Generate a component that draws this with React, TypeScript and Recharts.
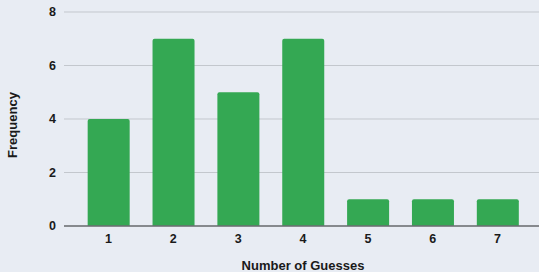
import React from "react";
import { BarChart, Bar, XAxis, YAxis, CartesianGrid, Label } from "recharts";

const guesses = ["1", "2", "3", "4", "5", "6", "7"];
const frequency = [4, 7, 5, 7, 1, 1, 1];
const yTicks = [0, 2, 4, 6, 8];

const data = guesses.map((g, i) => ({ guess: g, freq: frequency[i] }));

const FONT = "'Liberation Sans', Arial, sans-serif";
const labelStyle = { fill: "#1a1a1a", fontSize: 13, fontWeight: 700, fontFamily: FONT };

export default function App() {
  return (
    <div style={{ position: "absolute", left: 0, top: 0, width: 539, height: 272, background: "#e8ecf3" }}>
      <BarChart
        width={539}
        height={272}
        data={data}
        margin={{ top: 12, right: 0, bottom: 0, left: 0 }}
        barCategoryGap="18%"
      >
        <CartesianGrid vertical={false} stroke="#c3c7cd" />
        <XAxis
          dataKey="guess"
          height={46}
          padding={{ left: 12, right: 9 }}
          axisLine={{ stroke: "#6b6e72", strokeWidth: 1.5 }}
          tickLine={false}
          tick={{ fill: "#1a1a1a", fontSize: 12.5, fontWeight: 700, fontFamily: FONT }}
        >
          <Label
            content={() => (
              <text x={303} y={270} textAnchor="middle" style={labelStyle}>
                Number of Guesses
              </text>
            )}
          />
        </XAxis>
        <YAxis
          width={64}
          domain={[0, 8]}
          ticks={yTicks}
          axisLine={false}
          tickLine={false}
          tick={{ fill: "#1a1a1a", fontSize: 12.5, fontWeight: 700, fontFamily: FONT }}
        >
          <Label
            content={() => (
              <text
                x={17}
                y={125}
                textAnchor="middle"
                transform="rotate(-90 17 125)"
                style={labelStyle}
              >
                Frequency
              </text>
            )}
          />
        </YAxis>
        <Bar dataKey="freq" fill="#34a853" radius={[2, 2, 0, 0]} isAnimationActive={false} />
      </BarChart>
    </div>
  );
}
